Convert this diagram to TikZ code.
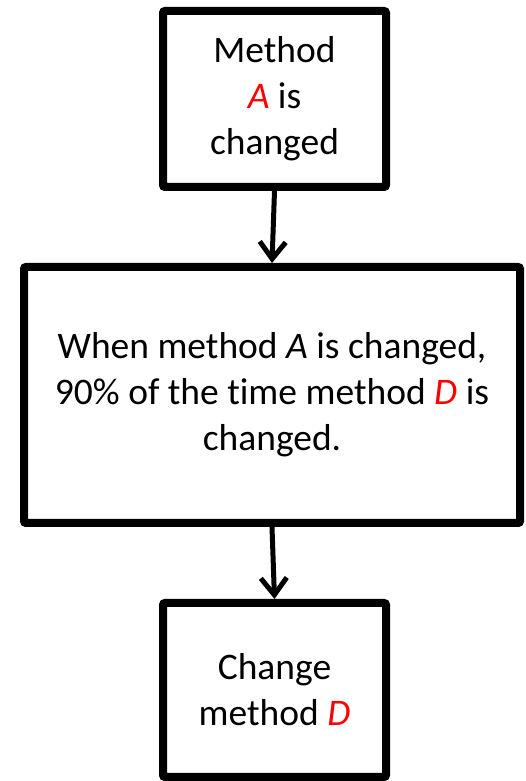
\documentclass[tikz,border=0pt]{standalone}
\usepackage{fontspec}
\setmainfont[Ligatures=NoCommon]{Carlito}
\usetikzlibrary{arrows.meta}
\begin{document}
\begin{tikzpicture}[x=1pt,y=1pt,
  box/.style={draw=black, line width=8pt, rounded corners=2pt, fill=white,
    align=center, inner sep=0pt, font=\fontsize{37.5}{46}\selectfont},
  flow/.style={line width=5pt, -{Straight Barb[length=17pt,width=26pt]}}]
\useasboundingbox (0,0) rectangle (526,781);
\node[box, minimum width=223pt, minimum height=176pt] (a) at (274.5,682)
  {Method\\\textcolor{red}{\textit{A}} is\\changed};
\node[box, minimum width=496pt, minimum height=256pt] (b) at (272,386)
  {When method \textit{A} is changed,\\90\% of the time method \textcolor{red}{\textit{D}} is\\changed.};
\node[box, minimum width=223pt, minimum height=174pt] (c) at (274.5,91)
  {Change\\method \textcolor{red}{\textit{D}}};
\draw[flow] (a.south) -- (b.north);
\draw[flow] (b.south) -- (c.north);
\end{tikzpicture}
\end{document}
